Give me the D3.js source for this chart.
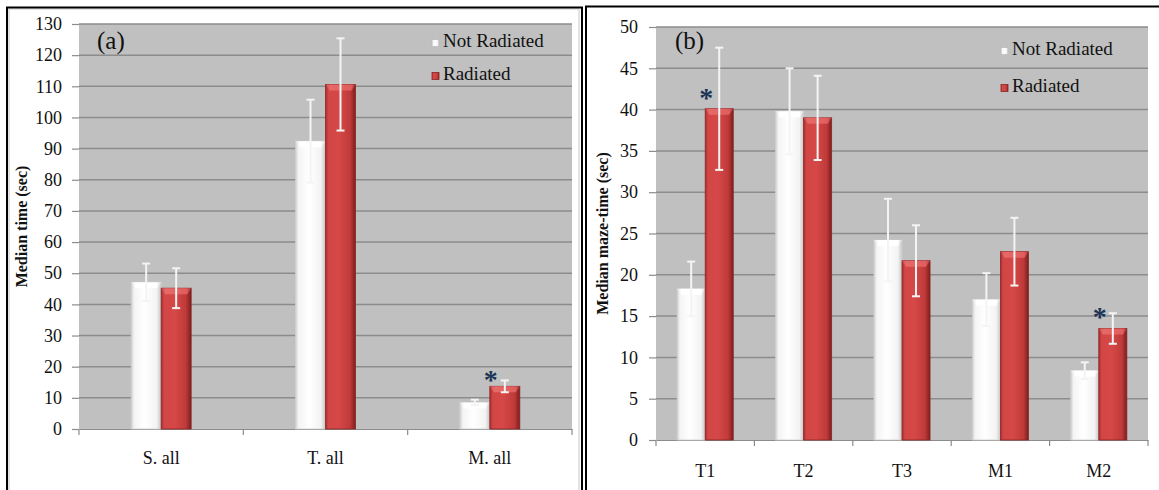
<!DOCTYPE html>
<html>
<head>
<meta charset="utf-8">
<script src="https://cdn.jsdelivr.net/npm/d3@7"></script>
<style>
  html, body { margin: 0; padding: 0; background: #fff; }
  svg text { font-family: "Times New Roman", "Liberation Serif", "DejaVu Serif", serif !important; }
</style>
</head>
<body>
<svg id="chart" width="1159" height="490"></svg>
<script>
// Panel (a): overall medians
const catsA = ["S. all", "T. all", "M. all"];
const notRadA = [47.1, 92.4, 8.5];
const radA = [45.2, 110.6, 13.7];
const errNotRadA = [6.0, 13.3, 0.9];
const errRadA = [6.4, 14.8, 1.9];
const sigA = ["M. all"];
const ticksA = d3.range(0, 131, 10);

// Panel (b): per-trial medians
const catsB = ["T1", "T2", "T3", "M1", "M2"];
const notRadB = [18.3, 39.8, 24.2, 17.0, 8.4];
const radB = [40.1, 39.0, 21.7, 22.8, 13.5];
const errNotRadB = [3.3, 5.2, 5.0, 3.2, 1.0];
const errRadB = [7.4, 5.1, 4.3, 4.1, 1.85];
const sigB = ["T1", "M2"];
const ticksB = d3.range(0, 51, 5);

const seriesNames = ["Not Radiated", "Radiated"];

const svg = d3.select("#chart");
const defs = svg.append("defs");

// Shaded bar fills
function hGrad(id, stops) {
  const g = defs.append("linearGradient").attr("id", id)
    .attr("x1", "0%").attr("x2", "100%").attr("y1", "0%").attr("y2", "0%");
  stops.forEach(([o, c]) => g.append("stop").attr("offset", o).attr("stop-color", c));
}
hGrad("gradWhite", [["0%", "#cfcfcf"], ["10%", "#f4f4f4"], ["45%", "#ffffff"], ["85%", "#f3f3f3"], ["100%", "#c6c6c6"]]);
hGrad("gradRed", [["0%", "#a92e2e"], ["10%", "#d24645"], ["45%", "#d54847"], ["82%", "#bf3a39"], ["100%", "#7c1e1e"]]);
hGrad("gradRedTop", [["0%", "#c44b4b"], ["15%", "#e66a69"], ["85%", "#e05e5d"], ["100%", "#a23a3a"]]);
hGrad("gradWhiteTop", [["0%", "#e2e2e2"], ["15%", "#ffffff"], ["85%", "#ffffff"], ["100%", "#d8d8d8"]]);

// Panel frames
svg.append("rect").attr("x", 9).attr("y", 9).attr("width", 570).attr("height", 490)
  .attr("fill", "none").attr("stroke", "#c8c8c8").attr("stroke-width", 1);
svg.append("path").attr("d", "M7,495 V7.5 H582 V495")
  .attr("fill", "none").attr("stroke", "#000").attr("stroke-width", 2);
svg.append("path").attr("d", "M586,495 V6.5 H1165")
  .attr("fill", "none").attr("stroke", "#000").attr("stroke-width", 2);

function drawPanel(cfg) {
  const g = svg.append("g");
  const { x0, x1, y0, y1 } = cfg;

  const x = d3.scaleBand().domain(cfg.cats).range([x0, x1]).padding(0);
  const y = d3.scaleLinear().domain([0, cfg.max]).range([y1, y0]);
  const groupW = x.bandwidth() * cfg.groupFrac;
  const xs = d3.scaleBand().domain(seriesNames).range([0, groupW]).padding(0);

  // plot area
  g.append("rect").attr("x", x0).attr("y", y0).attr("width", x1 - x0).attr("height", y1 - y0)
    .attr("fill", "#c0c0c0");

  // gridlines
  g.append("g").selectAll("line").data(cfg.ticks.filter(t => t > 0)).join("line")
    .attr("x1", x0).attr("x2", x1)
    .attr("y1", d => y(d)).attr("y2", d => y(d))
    .attr("stroke", "#8c8c8c").attr("stroke-width", 1.5);

  // y axis
  const yAxis = d3.axisLeft(y).tickValues(cfg.ticks).tickSize(7).tickPadding(cfg.tickPad).tickFormat(d3.format("d"));
  const ya = g.append("g").attr("transform", `translate(${x0},0)`).call(yAxis);
  ya.select(".domain").remove();
  ya.selectAll(".tick line").attr("stroke", "#8c8c8c").attr("stroke-width", 1.2);
  ya.selectAll(".tick text").attr("font-size", 18).attr("fill", "#111");

  // x axis
  const xAxis = d3.axisBottom(x).tickSize(0).tickPadding(cfg.xPad);
  const xa = g.append("g").attr("transform", `translate(0,${y1})`).call(xAxis);
  xa.select(".domain").attr("stroke", "#8c8c8c").attr("stroke-width", 1.2);
  xa.selectAll(".tick text").attr("font-size", 18).attr("fill", "#111");
  // category separators
  g.append("g").selectAll("line").data(cfg.cats.map(c => x(c)).concat([x1])).join("line")
    .attr("x1", d => d).attr("x2", d => d).attr("y1", y1).attr("y2", y1 + 6)
    .attr("stroke", "#8c8c8c").attr("stroke-width", 1.2);

  // bars
  const rows = [];
  cfg.cats.forEach((c, i) => {
    rows.push({ cat: c, s: "Not Radiated", v: cfg.notRad[i], e: cfg.errNot[i] });
    rows.push({ cat: c, s: "Radiated", v: cfg.rad[i], e: cfg.errRad[i] });
  });
  const bx = d => x(d.cat) + (x.bandwidth() - groupW) / 2 + xs(d.s);
  const bw = xs.bandwidth();

  const bars = g.append("g").selectAll("g").data(rows).join("g");
  bars.append("rect")
    .attr("x", d => bx(d)).attr("y", d => y(d.v))
    .attr("width", bw).attr("height", d => y(0) - y(d.v))
    .attr("fill", d => d.s === "Radiated" ? "url(#gradRed)" : "url(#gradWhite)")
    .attr("stroke", d => d.s === "Radiated" ? "#8a2424" : "#d0d0d0")
    .attr("stroke-width", 0.8);
  // bevelled top
  bars.append("path")
    .attr("d", d => {
      const l = bx(d), r = l + bw, t = y(d.v), h = Math.min(6, (y(0) - y(d.v)) / 2);
      return `M${l},${t} H${r} L${r - 4},${t + h} H${l + 4} Z`;
    })
    .attr("fill", d => d.s === "Radiated" ? "url(#gradRedTop)" : "url(#gradWhiteTop)");

  // error bars
  const eb = g.append("g").selectAll("g").data(rows).join("g")
    .attr("stroke", "#f4f4f4").attr("stroke-width", 2);
  const cx = d => bx(d) + bw / 2;
  eb.append("line").attr("x1", cx).attr("x2", cx)
    .attr("y1", d => y(d.v + d.e)).attr("y2", d => y(d.v - d.e));
  eb.append("line").attr("x1", d => cx(d) - 4).attr("x2", d => cx(d) + 4)
    .attr("y1", d => y(d.v + d.e)).attr("y2", d => y(d.v + d.e));
  eb.append("line").attr("x1", d => cx(d) - 4).attr("x2", d => cx(d) + 4)
    .attr("y1", d => y(d.v - d.e)).attr("y2", d => y(d.v - d.e));

  // significance markers
  g.append("g").selectAll("text")
    .data(rows.filter(d => d.s === "Radiated" && cfg.sig.includes(d.cat))).join("text")
    .attr("x", d => bx(d) + 1).attr("y", d => y(d.v) - cfg.starGap)
    .attr("text-anchor", "middle").attr("dominant-baseline", "middle")
    .attr("font-size", 28).attr("font-weight", "bold").attr("fill", "#1b3557")
    .attr("dy", "0.3em")
    .text("*");

  // panel label
  g.append("text").attr("x", cfg.labelX).attr("y", 43).attr("dominant-baseline", "middle")
    .attr("font-size", 25).attr("fill", "#111").text(cfg.label);

  // y title
  g.append("text")
    .attr("transform", `translate(${cfg.titleX},${(y0 + y1) / 2}) rotate(-90)`)
    .attr("text-anchor", "middle").attr("dominant-baseline", "middle")
    .attr("font-size", 16).attr("font-weight", "bold").attr("fill", "#111")
    .text(cfg.title);

  // legend
  const lg = g.append("g").selectAll("g").data(seriesNames).join("g")
    .attr("transform", (d, i) => `translate(${cfg.legX},${cfg.legY + i * cfg.legStep})`);
  lg.append("rect").attr("x", 0).attr("y", -3.5).attr("width", 7).attr("height", 7)
    .attr("fill", d => d === "Radiated" ? "url(#gradRed)" : "url(#gradWhite)")
    .attr("stroke", d => d === "Radiated" ? "#8a2424" : "#bdbdbd").attr("stroke-width", 0.8);
  lg.append("text").attr("x", 11).attr("y", 0).attr("dominant-baseline", "middle")
    .attr("font-size", 19).attr("fill", "#111").text(d => d);
}

drawPanel({
  cats: catsA, notRad: notRadA, rad: radA, errNot: errNotRadA, errRad: errRadA,
  sig: sigA, ticks: ticksA, max: 130,
  x0: 79, x1: 572, y0: 24, y1: 429, groupFrac: 0.365,
  tickPad: 10, xPad: 22, starGap: 12,
  label: "(a)", labelX: 97, title: "Median time (sec)", titleX: 23,
  legX: 432, legY: 43, legStep: 33
});

drawPanel({
  cats: catsB, notRad: notRadB, rad: radB, errNot: errNotRadB, errRad: errRadB,
  sig: sigB, ticks: ticksB, max: 50,
  x0: 656, x1: 1148, y0: 27, y1: 440, groupFrac: 0.57,
  tickPad: 11, xPad: 24, starGap: 17,
  label: "(b)", labelX: 675, title: "Median maze-time (sec)", titleX: 604,
  legX: 1001, legY: 51, legStep: 37
});
</script>
</body>
</html>
